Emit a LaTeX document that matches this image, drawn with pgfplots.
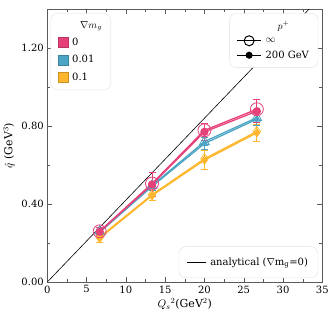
\documentclass[border=0pt]{standalone}
\usepackage{fontspec}
\setmainfont{DejaVu Serif}
\usepackage{pgfplots}
\pgfplotsset{compat=1.18}
\definecolor{cpink}{RGB}{231,65,122}
\definecolor{cblue}{RGB}{76,165,196}
\definecolor{corange}{RGB}{254,183,44}
\definecolor{axgray}{RGB}{90,90,90}
\begin{document}
\begin{tikzpicture}
\pgfplotsset{
  lstyle/.style={draw=black!12, fill=white, rounded corners=7pt, font=\fontsize{10}{12}\selectfont, inner xsep=7pt, inner ysep=6pt, row sep=4.5pt, column sep=2pt, cells={anchor=west}},
}
\begin{axis}[name=main,
  scale only axis, width=275pt, height=273pt,
  xmin=0, xmax=35, ymin=0, ymax=1.4,
  xtick={0,5,...,35}, ytick={0,0.4,0.8,1.2},
  minor x tick num=1, minor y tick num=1,
  tick align=inside, major tick length=5pt, minor tick length=3pt,
  axis line style={axgray}, tick style={axgray},
  ticklabel style={font=\fontsize{10}{12}\selectfont},
  /pgf/number format/assume math mode=true,
  yticklabel style={/pgf/number format/.cd, fixed, fixed zerofill, precision=2},
  xlabel={${Q_s}^2$(GeV$^2$)}, ylabel={$\hat{q}$ (GeV$^3$)},
  label style={font=\fontsize{11}{13}\selectfont},
  xlabel style={yshift=2pt}, ylabel style={yshift=0pt},
  legend style={lstyle, at={(0.012,0.985)}, anchor=north west},
  legend image code/.code={\draw[#1, sharp corners] (0pt,-5pt) rectangle (10pt,5pt);},
]
\addlegendimage{empty legend}\addlegendentry{\hspace{8pt}$\nabla m_g$}
\addlegendimage{fill=cpink, draw=cpink!80!black}\addlegendentry{0}
\addlegendimage{fill=cblue, draw=cblue!80!black}\addlegendentry{0.01}
\addlegendimage{fill=corange, draw=corange!80!black}\addlegendentry{0.1}
% analytical
\addplot[black, line width=0.6pt, forget plot] coordinates {(0,0) (35,1.47)};
% 0.1 orange
\addplot[corange, line width=1.3pt, mark=diamond*, mark size=3.5pt, forget plot,
  error bars/.cd, y dir=both, y explicit, error bar style={line width=0.9pt}, error mark options={rotate=90, mark size=3.5pt, line width=0.9pt}]
  coordinates {(6.67,0.225) +- (0,0.02) (13.33,0.443) +- (0,0.025) (20,0.625) +- (0,0.05) (26.67,0.765) +- (0,0.045)};
\addplot[corange, line width=1.3pt, mark=diamond, mark size=5pt, mark options={line width=0.8pt}, forget plot]
  coordinates {(6.67,0.23) (13.33,0.448) (20,0.632) (26.67,0.772)};
% 0.01 blue
\addplot[cblue, line width=1.3pt, mark=triangle*, mark size=3.5pt, forget plot,
  error bars/.cd, y dir=both, y explicit, error bar style={line width=0.9pt}, error mark options={rotate=90, mark size=3.5pt, line width=0.9pt}]
  coordinates {(6.67,0.255) +- (0,0.015) (13.33,0.49) +- (0,0.02) (20,0.71) +- (0,0.03) (26.67,0.835) +- (0,0.03)};
\addplot[cblue, line width=1.3pt, mark=triangle, mark size=5.5pt, mark options={line width=0.8pt}, forget plot]
  coordinates {(6.67,0.26) (13.33,0.495) (20,0.72) (26.67,0.843)};
% 0 pink
\addplot[cpink, line width=1.3pt, mark=*, mark size=3.5pt, forget plot,
  error bars/.cd, y dir=both, y explicit, error bar style={line width=0.9pt}, error mark options={rotate=90, mark size=3.5pt, line width=0.9pt}]
  coordinates {(6.67,0.258) +- (0,0.02) (13.33,0.50) +- (0,0.06) (20,0.77) +- (0,0.045) (26.67,0.876) +- (0,0.06)};
\addplot[cpink, line width=1.3pt, mark=o, mark size=6.5pt, mark options={line width=0.8pt}, forget plot]
  coordinates {(6.67,0.26) (13.33,0.505) (20,0.778) (26.67,0.886)};
\end{axis}
\begin{axis}[
  scale only axis, width=275pt, height=273pt,
  xmin=0, xmax=35, ymin=0, ymax=1.4, hide axis,
  legend style={lstyle, at={(0.985,0.985)}, anchor=north east, row sep=3pt},
  legend image code/.code={\draw[#1, sharp corners, mark repeat=2, mark phase=2] plot coordinates {(0cm,0cm) (0.42cm,0cm) (0.84cm,0cm)};},
]
\addlegendimage{empty legend}\addlegendentry{\hspace{12pt}$p^{+}$}
\addlegendimage{black, line width=1pt, mark=o, mark size=5pt}\addlegendentry{$\infty$}
\addlegendimage{black, line width=1pt, mark=*, mark size=3pt}\addlegendentry{200 GeV}
\end{axis}
\begin{axis}[
  scale only axis, width=275pt, height=273pt,
  xmin=0, xmax=35, ymin=0, ymax=1.4, hide axis,
  legend style={lstyle, at={(0.985,0.015)}, anchor=south east, inner xsep=8pt, inner ysep=9pt},
  legend image code/.code={\draw[#1, sharp corners] (0cm,0cm) -- (0.65cm,0cm);},
]
\addlegendimage{black, line width=0.8pt}\addlegendentry{analytical ($\nabla\mathrm{m_g}$=0)}
\end{axis}
\path ([yshift=9pt]main.north) ([xshift=7pt]main.east);
\end{tikzpicture}
\end{document}
